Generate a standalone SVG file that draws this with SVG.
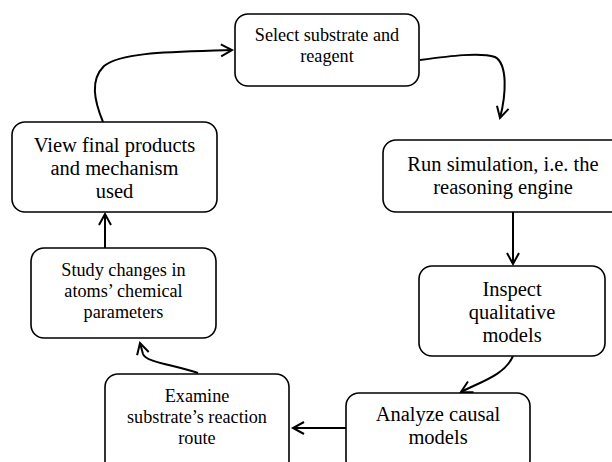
<svg xmlns="http://www.w3.org/2000/svg" width="612" height="462" viewBox="0 0 612 462">
<style>
.box{fill:#fff;stroke:#000;stroke-width:1.6}
.t{font-family:"Liberation Serif","Times New Roman",serif;text-anchor:middle;fill:#000}
.s16{font-size:18.2px}
.s18{font-size:20.5px}
.c{fill:none;stroke:#000;stroke-width:2}
</style>
<defs>
<marker id="ah" markerUnits="userSpaceOnUse" markerWidth="16" markerHeight="16" refX="12" refY="7" orient="auto" viewBox="0 0 16 14">
<path d="M1,1 L12,7 L1,13" fill="none" stroke="#000" stroke-width="2"/>
</marker>
</defs>
<rect width="612" height="462" fill="#fff"/>
<g id="connectors">
<path class="c" marker-end="url(#ah)" d="M103,122 C94,100 90,80 104,66 C122,52 170,52 232,50"/>
<path class="c" marker-end="url(#ah)" d="M420,60 C450,56 480,52 495,57 C508,64 506,95 500,118"/>
<path class="c" marker-end="url(#ah)" d="M513,212 L513,264"/>
<path class="c" marker-end="url(#ah)" d="M513,356 C505,375 480,382 461,392"/>
<path class="c" marker-end="url(#ah)" d="M346,428 L293,428"/>
<path class="c" marker-end="url(#ah)" d="M198,373 C170,364 146,362 143,354 L140,343"/>
<path class="c" marker-end="url(#ah)" d="M105,248 L105,214"/>
</g>
<g id="node-select">
<rect class="box" x="235" y="14" width="184" height="72" rx="13"/>
<text class="t s16" x="327" y="41">Select substrate and</text>
<text class="t s16" x="327" y="62">reagent</text>
</g>
<g id="node-run">
<rect class="box" x="383" y="140" width="242" height="72" rx="13"/>
<text class="t s18" x="503" y="171">Run simulation, i.e. the</text>
<text class="t s18" x="503" y="194">reasoning engine</text>
</g>
<g id="node-inspect">
<rect class="box" x="419" y="266" width="186" height="90" rx="13"/>
<text class="t s18" x="512" y="296">Inspect</text>
<text class="t s18" x="512" y="319">qualitative</text>
<text class="t s18" x="512" y="342">models</text>
</g>
<g id="node-analyze">
<rect class="box" x="346" y="393" width="184" height="80" rx="13"/>
<text class="t s18" x="438" y="421">Analyze causal</text>
<text class="t s18" x="438" y="444">models</text>
</g>
<g id="node-examine">
<rect class="box" x="105" y="374" width="184" height="100" rx="13"/>
<text class="t s16" x="197" y="402">Examine</text>
<text class="t s16" x="197" y="423">substrate’s reaction</text>
<text class="t s16" x="197" y="444">route</text>
</g>
<g id="node-study">
<rect class="box" x="31" y="248" width="185" height="90" rx="13"/>
<text class="t s16" x="123.5" y="276">Study changes in</text>
<text class="t s16" x="123.5" y="297">atoms’ chemical</text>
<text class="t s16" x="123.5" y="318">parameters</text>
</g>
<g id="node-view">
<rect class="box" x="12" y="122" width="205" height="90" rx="13"/>
<text class="t s18" x="114.5" y="152">View final products</text>
<text class="t s18" x="114.5" y="175">and mechanism</text>
<text class="t s18" x="114.5" y="198">used</text>
</g>
</svg>
